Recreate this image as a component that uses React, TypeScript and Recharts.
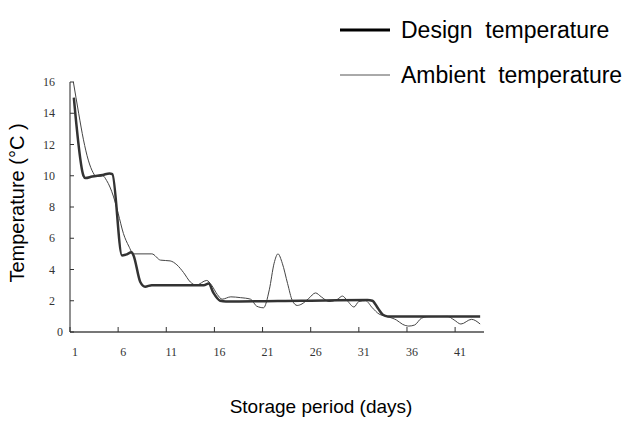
import { LineChart, Line, XAxis, YAxis } from 'recharts'

// design (set-point) temperature, day -> °C
const designDays = [1.4, 2.4, 2.6, 3.3, 4.4, 5.1, 5.4, 6.4, 6.8, 7.4, 7.6, 8.3, 8.8, 9.5, 12, 14.9, 15.4, 15.9, 16.6, 17.2, 25, 31.9, 32.4, 33.0, 33.5, 34.0, 38, 43.6]
const designTemps = [15, 10, 9.85, 9.95, 10.05, 10.15, 10.1, 4.9, 4.95, 5.1, 4.9, 3.2, 2.9, 3.0, 3.0, 3.0, 3.1, 2.5, 2.0, 1.95, 2.0, 2.05, 2.0, 1.5, 1.1, 1.0, 1.0, 1.0]

// measured ambient temperature
const ambientDays = [1.35, 1.9, 2.4, 2.9, 3.4, 3.7, 4.4, 4.8, 5.5, 6.0, 6.55, 7.1, 7.6, 9.5, 10.4, 11.4, 12.1, 12.8, 13.5, 14.1, 15.2, 15.7, 16.3, 16.8, 17.7, 18.7, 19.75, 20.4, 21.1, 21.7, 22.2, 22.6, 23.05, 23.6, 24.1, 24.6, 25.1, 25.8, 26.5, 27.1, 27.9, 28.8, 29.3, 29.8, 30.5, 31.0, 31.7, 32.4, 33.1, 34.0, 34.9, 35.55, 36.2, 36.8, 37.5, 38.2, 40.2, 40.9, 41.6, 42.7, 43.6]
const ambientTemps = [16, 14, 12.3, 11, 10.2, 9.95, 10, 9.7, 8.7, 7.6, 6.3, 5.5, 5.0, 5.0, 4.6, 4.55, 4.3, 3.8, 3.2, 3.0, 3.3, 3.0, 2.4, 2.1, 2.25, 2.2, 2.1, 1.65, 1.55, 2.7, 4.4, 5.0, 4.4, 3.1, 2.0, 1.7, 1.8, 2.15, 2.5, 2.25, 1.95, 2.1, 2.3, 2.0, 1.6, 1.95, 2.0, 1.55, 1.15, 0.98, 0.77, 0.49, 0.38, 0.45, 0.88, 0.98, 1.0, 0.77, 0.51, 0.81, 0.51]

const xTicks = [1, 6, 11, 16, 21, 26, 31, 36, 41]
const yTicks = [0, 2, 4, 6, 8, 10, 12, 14, 16]

const designData = designDays.map((d, i) => ({ day: d, temp: designTemps[i] }))
const ambientData = ambientDays.map((d, i) => ({ day: d, temp: ambientTemps[i] }))

const SERIF = '"Liberation Serif", "DejaVu Serif", serif'
const SANS = '"Liberation Sans", Arial, sans-serif'

// ticks point inward, labels sit a bit off the tick like the original
function XTick({ x, payload }: any) {
  return (
    <g>
      <line x1={x} y1={332} x2={x} y2={327} stroke="#333" strokeWidth={1} />
      <text x={x + 5} y={356} textAnchor="middle" fontFamily={SERIF} fontSize={12} fill="#333">
        {payload.value}
      </text>
    </g>
  )
}

function YTick({ y, payload }: any) {
  return (
    <g>
      <line x1={70} y1={y} x2={74} y2={y} stroke="#333" strokeWidth={1} />
      <text x={payload.value === 0 ? 63 : 55} y={y + 4} textAnchor="end" fontFamily={SERIF} fontSize={12} fill="#333">
        {payload.value}
      </text>
    </g>
  )
}

export default function App() {
  return (
    <div style={{ position: 'absolute', left: 0, top: 0, width: 630, height: 421, background: '#fff' }}>
      <LineChart width={630} height={421} margin={{ top: 82, right: 146, bottom: 59, left: 30 }}>
        <XAxis
          type="number"
          dataKey="day"
          domain={[1, 44]}
          ticks={xTicks}
          interval={0}
          allowDataOverflow
          height={30}
          tickLine={false}
          tick={<XTick />}
          axisLine={{ stroke: '#777', strokeWidth: 2 }}
        />
        <YAxis
          type="number"
          dataKey="temp"
          domain={[0, 16]}
          ticks={yTicks}
          interval={0}
          allowDataOverflow
          width={40}
          tickLine={false}
          tick={<YTick />}
          axisLine={{ stroke: '#222', strokeWidth: 1 }}
        />
        <Line
          data={ambientData}
          dataKey="temp"
          type="monotone"
          stroke="#444"
          strokeWidth={1}
          dot={false}
          isAnimationActive={false}
        />
        <Line
          data={designData}
          dataKey="temp"
          type="monotone"
          stroke="#333"
          strokeWidth={2.5}
          dot={false}
          isAnimationActive={false}
        />
        {/* legend */}
        <line x1={340} y1={30} x2={390} y2={30} stroke="#000" strokeWidth={3} />
        <text x={401} y={38} fontFamily={SANS} fontSize={23} fill="#000" style={{ whiteSpace: 'pre' }}>
          Design  temperature
        </text>
        <line x1={340} y1={75} x2={390} y2={75} stroke="#555" strokeWidth={1} />
        <text x={401} y={83} fontFamily={SANS} fontSize={23} fill="#000" style={{ whiteSpace: 'pre' }}>
          Ambient  temperature
        </text>
        <text x={24} y={203} transform="rotate(-90 24 203)" textAnchor="middle" fontFamily={SANS} fontSize={20} fill="#000" style={{ whiteSpace: 'pre' }}>
          Temperature (°C )
        </text>
        <text x={321} y={413} textAnchor="middle" fontFamily={SANS} fontSize={19} fill="#000">
          Storage period (days)
        </text>
      </LineChart>
    </div>
  )
}
